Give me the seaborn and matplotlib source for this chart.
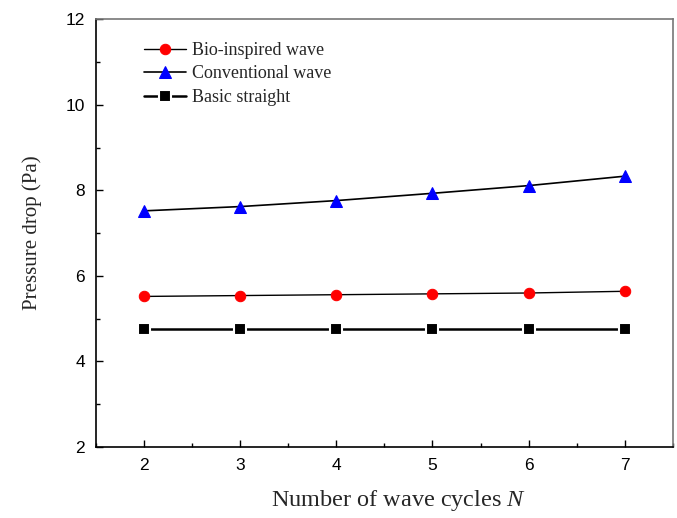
import matplotlib
matplotlib.use("Agg")
import matplotlib.pyplot as plt
import seaborn as sns
import pandas as pd
from matplotlib.ticker import MultipleLocator

# Pressure drop versus number of wave cycles
cycles = [2, 3, 4, 5, 6, 7]
bio_inspired = [5.52, 5.54, 5.56, 5.58, 5.60, 5.64]
conventional = [7.52, 7.62, 7.76, 7.93, 8.11, 8.33]
basic_straight = [4.77, 4.77, 4.77, 4.77, 4.77, 4.77]

series_names = ["Bio-inspired wave", "Conventional wave", "Basic straight"]

sns.set_theme(style="ticks")
plt.rcParams["font.family"] = ["Liberation Sans", "DejaVu Sans"]
plt.rcParams["mathtext.fontset"] = "custom"
plt.rcParams["mathtext.rm"] = "Liberation Serif"
plt.rcParams["mathtext.it"] = "Liberation Serif:italic"

fig = plt.figure(figsize=(6.77, 5.18), dpi=100)
ax = fig.add_axes([0.1418, 0.137, 0.852, 0.826])

df = pd.DataFrame({"N": cycles, "bio": bio_inspired,
                   "conv": conventional, "basic": basic_straight})

sns.lineplot(data=df, x="N", y="bio", ax=ax, color="black", lw=1.0,
             marker="o", markersize=7.5, markerfacecolor="red",
             markeredgecolor="red", label=series_names[0])
sns.lineplot(data=df, x="N", y="conv", ax=ax, color="black", lw=1.2,
             marker="^", markersize=8.5, markerfacecolor="blue",
             markeredgecolor="blue", label=series_names[1])
sns.lineplot(data=df, x="N", y="basic", ax=ax, color="black", lw=1.8,
             marker="s", markersize=8, markerfacecolor="black",
             markeredgecolor="white", markeredgewidth=1.5,
             label=series_names[2])

ax.set_xlim(1.5, 7.5)
ax.set_ylim(2, 12)
ax.xaxis.set_major_locator(MultipleLocator(1))
ax.xaxis.set_minor_locator(MultipleLocator(0.5))
ax.yaxis.set_major_locator(MultipleLocator(2))
ax.yaxis.set_minor_locator(MultipleLocator(1))
ax.tick_params(which="both", direction="in", top=False, right=False,
               labelsize=12.5, colors="black")
ax.tick_params(which="major", length=5, width=1.0, pad=8)
ax.tick_params(which="minor", length=3, width=1.0)

for side in ["left", "bottom"]:
    ax.spines[side].set_color("black")
    ax.spines[side].set_linewidth(1.2)
for side in ["top", "right"]:
    ax.spines[side].set_visible(True)
    ax.spines[side].set_color("#777777")
    ax.spines[side].set_linewidth(1.2)

serif = ["Liberation Serif", "DejaVu Serif"]
ax.set_xlabel("Number of wave cycles $\\mathit{N}$", family=serif,
              fontsize=17.5)
ax.xaxis.set_label_coords(0.525, -0.095)
ax.set_ylabel("Pressure drop (Pa)", family=serif, fontsize=15, labelpad=17)

leg = ax.legend(loc="upper left", bbox_to_anchor=(0.055, 0.985), frameon=False,
                prop={"family": serif, "size": 13}, handlelength=2.3,
                handletextpad=0.35, labelspacing=0.36)

fig.savefig("out.png", dpi=100)
